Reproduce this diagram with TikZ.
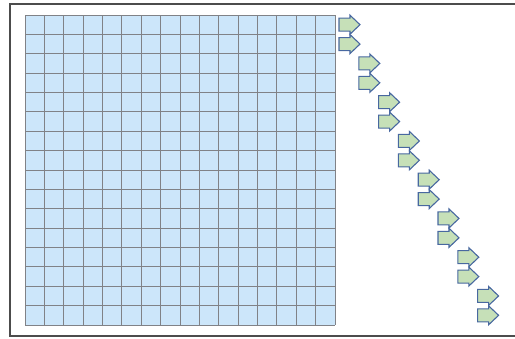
\documentclass[tikz,border=0pt]{standalone}
\usepackage{tikz}
\definecolor{cellblue}{RGB}{204,230,250}
\definecolor{gridgray}{RGB}{128,130,135}
\definecolor{arrgreen}{RGB}{198,224,184}
\definecolor{arrblue}{RGB}{72,104,160}

\begin{document}
\begin{tikzpicture}[x=1pt, y=-1pt,
  frame/.style={draw=black!70, line width=1.3pt},
  gridline/.style={draw=gridgray, line width=1pt},
  rarr/.pic={\filldraw[fill=arrgreen, draw=arrblue, line width=1.1pt, line join=miter]
    (0,-6.5) -- (11,-6.5) -- (11,-9.5) -- (21,0) -- (11,9.5) -- (11,6.5) -- (0,6.5) -- cycle;}]
\useasboundingbox (0,0) rectangle (515,338);
% outer frame (right side runs off the page)
\draw[frame] (516,4) -- (10,4) -- (10,336) -- (516,336);
% the 16 x 16 block
\fill[cellblue] (25,15) rectangle (335,325);
\foreach \i in {0,...,16} {
  \draw[gridline] ({25+19.375*\i},15) -- ({25+19.375*\i},325);
  \draw[gridline] (25,{15+19.375*\i}) -- (335,{15+19.375*\i});
}
% one arrow per row, shifted right in pairs
\foreach \k in {0,...,7} {
  \pic at ({339+19.8*\k}, {15+19.375*(2*\k+0.5)}) {rarr};
  \pic at ({339+19.8*\k}, {15+19.375*(2*\k+1.5)}) {rarr};
}
\end{tikzpicture}
\end{document}
